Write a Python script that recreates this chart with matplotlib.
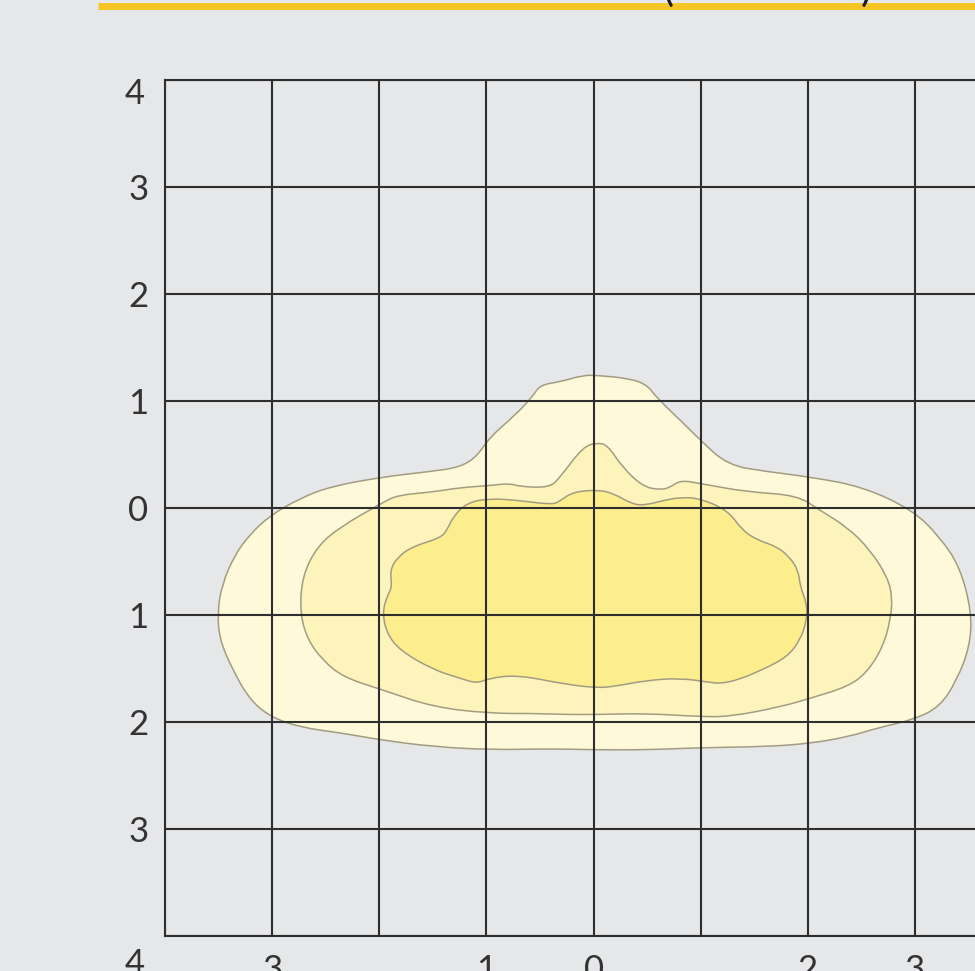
import numpy as np
import matplotlib.pyplot as plt
from matplotlib.lines import Line2D
from matplotlib.path import Path
from matplotlib.patches import PathPatch

plt.rcParams['font.family'] = ['Lato', 'DejaVu Sans']

# isolux outlines (metres), outermost first, traced clockwise from the top
outer_x = [0.03, 0.34, 0.50, 0.59, 0.81, 0.99, 1.25, 1.62, 2.02, 2.51, 2.98, 3.23, 3.42, 3.53,
           3.51, 3.39, 3.23, 2.98, 2.67, 2.37, 2.02, 1.62, 0.99, 0.50, 0.03, -0.41, -0.97,
           -1.50, -1.97, -2.37, -2.74, -3.02, -3.21, -3.37, -3.49, -3.51, -3.47, -3.35, -3.21,
           -3.02, -2.74, -2.46, -1.97, -1.53, -1.25, -1.09, -0.97, -0.73, -0.57, -0.50, -0.31, -0.10]
outer_y = [1.24, 1.21, 1.15, 1.03, 0.82, 0.64, 0.40, 0.34, 0.29, 0.20, -0.02, -0.27, -0.55, -0.98,
           -1.30, -1.61, -1.86, -1.98, -2.05, -2.14, -2.20, -2.23, -2.24, -2.26, -2.26, -2.25, -2.26,
           -2.23, -2.17, -2.10, -2.05, -1.95, -1.79, -1.51, -1.23, -0.98, -0.72, -0.44, -0.25,
           -0.07, 0.09, 0.20, 0.29, 0.34, 0.38, 0.48, 0.66, 0.87, 1.04, 1.15, 1.18, 1.24]

mid_x = [0.03, 0.13, 0.27, 0.46, 0.62, 0.71, 0.81, 0.99, 1.43, 1.90, 2.11, 2.37, 2.58, 2.74, 2.79,
         2.77, 2.70, 2.55, 2.37, 2.05, 1.74, 1.27, 0.99, 0.50, 0.03, -0.25, -0.57, -0.97, -1.50,
         -1.97, -2.34, -2.53, -2.67, -2.74, -2.72, -2.58, -2.37, -1.97, -1.83, -1.50, -1.25,
         -0.97, -0.78, -0.69, -0.41, -0.31, -0.10]
mid_y = [0.61, 0.59, 0.38, 0.20, 0.17, 0.19, 0.26, 0.23, 0.15, 0.12, -0.02, -0.18, -0.39, -0.64, -0.83,
         -1.05, -1.30, -1.54, -1.67, -1.77, -1.86, -1.95, -1.95, -1.92, -1.93, -1.93, -1.92, -1.92, -1.86,
         -1.70, -1.58, -1.42, -1.23, -0.98, -0.64, -0.36, -0.18, 0.05, 0.12, 0.15, 0.19,
         0.21, 0.23, 0.20, 0.19, 0.29, 0.57]

inner_x = [0.03, 0.18, 0.37, 0.50, 0.65, 0.81, 0.99, 1.25, 1.39, 1.53, 1.71, 1.83, 1.91, 1.93, 1.99,
           1.99, 1.93, 1.81, 1.58, 1.34, 1.18, 1.09, 0.81, 0.50, 0.18, 0.03, -0.25, -0.71, -0.97,
           -1.09, -1.25, -1.50, -1.81, -1.93, -1.97, -1.93, -1.88, -1.90, -1.83, -1.69, -1.43,
           -1.37, -1.31, -1.18, -0.97, -0.69, -0.38, -0.31, -0.19]
inner_y = [0.17, 0.14, 0.03, 0.03, 0.07, 0.10, 0.09, -0.02, -0.21, -0.30, -0.36, -0.46, -0.58, -0.74, -0.89,
           -1.05, -1.23, -1.39, -1.51, -1.61, -1.64, -1.63, -1.59, -1.61, -1.67, -1.68, -1.65, -1.56, -1.59,
           -1.64, -1.59, -1.51, -1.33, -1.17, -0.98, -0.83, -0.74, -0.58, -0.46, -0.36, -0.28,
           -0.21, -0.08, 0.05, 0.09, 0.07, 0.03, 0.07, 0.15]

outlines = [(outer_x, outer_y), (mid_x, mid_y), (inner_x, inner_y)]
fill_colors = ['#fefad9', '#fdf4bc', '#fdee8d']

grid_x = [-4, -3, -2, -1, 0, 1, 2, 3]
x_labels = ['', '3', '', '1', '0', '', '2', '3']
grid_y = [-4, -3, -2, -1, 0, 1, 2, 3, 4]
y_labels = ['', '3', '2', '1', '0', '1', '2', '3', '']

bg = '#e6e7e9'
ink = '#2e2e2e'
txt = '#333333'


def rounded_outline(xs, ys):
    # closed outline through the traced points, corners rounded with quadratic curves
    pts = np.column_stack([xs, ys])
    nxt = np.roll(pts, -1, axis=0)
    mids = (pts + nxt) / 2
    verts = [mids[-1]]
    codes = [Path.MOVETO]
    for p, m in zip(pts, mids):
        verts += [p, m]
        codes += [Path.CURVE3, Path.CURVE3]
    verts.append(mids[-1])
    codes.append(Path.CLOSEPOLY)
    return Path(verts, codes)


fig = plt.figure(figsize=(9.75, 9.71), dpi=100, facecolor=bg)
ax = fig.add_axes([165 / 975, 35 / 971, 810 / 975, 856 / 971])
ax.set_facecolor(bg)

for (xs, ys), c in zip(outlines, fill_colors):
    ax.add_patch(PathPatch(rounded_outline(xs, ys), facecolor=c, edgecolor='#a39c82',
                           linewidth=1.1, zorder=1))

ax.set_xlim(-4, 3.56)
ax.set_ylim(-4, 4)
ax.set_xticks(grid_x)
ax.set_xticklabels(x_labels)
ax.set_yticks(grid_y)
ax.set_yticklabels(y_labels)
ax.tick_params(length=0, labelsize=25, labelcolor=txt)
ax.tick_params(axis='x', pad=13)
ax.tick_params(axis='y', pad=12)
ax.grid(True, color=ink, linewidth=1.5, zorder=3)
ax.set_axisbelow(False)

for side in ['left', 'top', 'bottom']:
    ax.spines[side].set_color(ink)
    ax.spines[side].set_linewidth(1.5)
ax.spines['right'].set_visible(False)

# corner labels for the +/-4 rows
ax.text(-4.28, 3.87, '4', fontsize=25, color=txt, ha='center', va='center')
ax.text(-4.28, -4.26, '4', fontsize=25, color=txt, ha='center', va='center', clip_on=False)

# yellow rule under the heading, with the tails of its brackets
fig.add_artist(Line2D([98 / 975, 1.0], [1 - 6.5 / 971] * 2, color='#f5c623',
                      linewidth=5, solid_capstyle='butt'))
fig.text(668 / 975, 1 - 8 / 971, '(', fontsize=30, color='#1a1a1a', ha='center', va='bottom')
fig.text(866 / 975, 1 - 8 / 971, ')', fontsize=30, color='#1a1a1a', ha='center', va='bottom')

fig.savefig('out.png', dpi=100, facecolor=bg)
